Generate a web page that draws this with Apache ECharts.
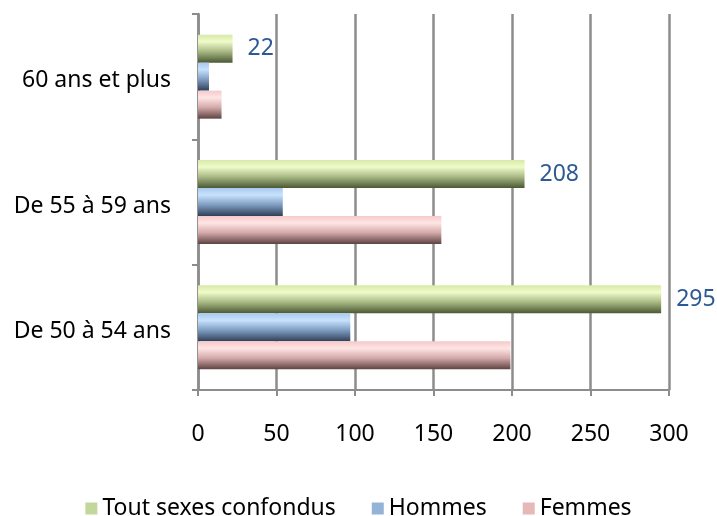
<!DOCTYPE html>
<html>
<head>
<meta charset="utf-8">
<script src="https://cdn.jsdelivr.net/npm/echarts@6/dist/echarts.min.js"></script>
<style>html,body{margin:0;padding:0;background:#fff}#c{width:717px;height:516px}</style>
</head>
<body>
<div id="c"></div>
<script>
const categories = ["De 50 à 54 ans", "De 55 à 59 ans", "60 ans et plus"];
const seriesNames = ["Tout sexes confondus", "Hommes", "Femmes"];
const toutValues = [295, 208, 22];
const hommesValues = [97, 54, 7];
const femmesValues = [199, 155, 15];
const xTicks = [0, 50, 100, 150, 200, 250, 300];

function grad(c0, c1, c2, c3) {
  return new echarts.graphic.LinearGradient(0, 0, 0, 1, [
    {offset: 0, color: c0},
    {offset: 0.25, color: c1},
    {offset: 0.6, color: c2},
    {offset: 1, color: c3}
  ]);
}
const flat = ['#c3d69b', '#95b3d7', '#e6b9b8'];
const FONT = "Noto Sans";
const chart = echarts.init(document.getElementById('c'), null, {renderer: 'canvas'});
const option = {
  animation: false,
  textStyle: {fontFamily: FONT},
  grid: {left: 198, right: 48, top: 14, bottom: 126, containLabel: false},
  legend: {
    data: seriesNames.map((n, i) => ({name: n, itemStyle: {color: flat[i]}})),
    top: 497,
    left: 'center',
    icon: 'rect',
    itemWidth: 12, itemHeight: 12,
    itemGap: 36,
    padding: 0,
    textStyle: {fontFamily: FONT, fontSize: 23, color: '#000'}
  },
  xAxis: {
    type: 'value',
    min: xTicks[0], max: xTicks[xTicks.length - 1], interval: 50,
    axisLine: {show: true, lineStyle: {color: '#8c8c8c', width: 2}},
    axisTick: {show: true, length: 6, lineStyle: {color: '#8c8c8c', width: 2}},
    splitLine: {show: true, lineStyle: {color: '#8c8c8c', width: 2.5}},
    axisLabel: {margin: 33, fontSize: 23, color: '#000', fontFamily: FONT}
  },
  yAxis: {
    type: 'category',
    data: categories,
    axisLine: {show: true, lineStyle: {color: '#8c8c8c', width: 2.5}},
    axisTick: {show: true, length: 6, lineStyle: {color: '#8c8c8c', width: 2}},
    axisLabel: {
      margin: 27, fontSize: 23, color: '#000', fontFamily: FONT,
      formatter: v => '{a|' + v + '}',
      rich: {a: {fontSize: 23, fontFamily: FONT, color: '#000', padding: [8, 0, 0, 0]}}
    }
  },
  series: [
    {name: seriesNames[0], type: 'bar', data: toutValues, barGap: '0%', barCategoryGap: '33%',
     itemStyle: {color: grad('#d8e9a8', '#effbc9', '#a9b985', '#4b5834')},
     label: {show: true, position: 'right', distance: 15, fontSize: 23, color: '#2e5a94', fontFamily: FONT}},
    {name: seriesNames[1], type: 'bar', data: hommesValues, barGap: '0%', barCategoryGap: '33%',
     itemStyle: {color: grad('#a9c9ef', '#c8e2fc', '#7f9dc2', '#2f3f57')}},
    {name: seriesNames[2], type: 'bar', data: femmesValues, barGap: '0%', barCategoryGap: '33%',
     itemStyle: {color: grad('#f5c9c9', '#ffe5e5', '#d3a9a9', '#5e4242')}}
  ]
};
chart.setOption(option);
</script>
</body>
</html>
